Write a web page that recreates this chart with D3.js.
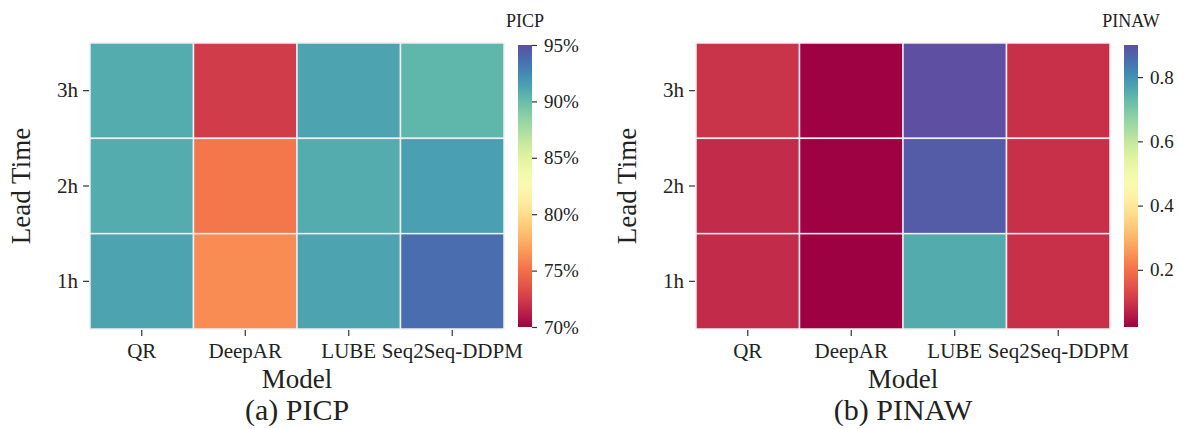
<!DOCTYPE html>
<html lang="en">
<head>
<meta charset="utf-8">
<title>PICP / PINAW heatmaps</title>
<script src="https://cdn.jsdelivr.net/npm/d3@7"></script>
<style>
  body { margin: 0; background: #fff; }
  text { font-family: "Liberation Serif", "Times New Roman", serif; fill: #222; }
</style>
</head>
<body>
<script>
// data
var models = ["QR", "DeepAR", "LUBE", "Seq2Seq-DDPM"];
var leadTimes = ["3h", "2h", "1h"];   // top to bottom

// PICP, rows = 3h, 2h, 1h
var picp3h = [0.909, 0.725, 0.913, 0.904];
var picp2h = [0.909, 0.753, 0.909, 0.915];
var picp1h = [0.913, 0.762, 0.913, 0.937];

// PINAW, rows = 3h, 2h, 1h
var pinaw3h = [0.097, 0.024, 0.900, 0.092];
var pinaw2h = [0.084, 0.023, 0.880, 0.092];
var pinaw1h = [0.084, 0.022, 0.757, 0.092];

var picpTicks = [0.70, 0.75, 0.80, 0.85, 0.90, 0.95];
var pinawTicks = [0.2, 0.4, 0.6, 0.8];

var W = 1179, H = 429;
var svg = d3.select("body").append("svg")
    .attr("width", W)
    .attr("height", H);

var FONT = "'Liberation Serif', 'Times New Roman', serif";

function toCells(rows) {
    var cells = [];
    rows.forEach(function(row, r) {
        row.forEach(function(v, c) {
            cells.push({ lead: leadTimes[r], model: models[c], value: v });
        });
    });
    return cells;
}

function drawPanel(opt) {
    var g = svg.append("g");

    var x = d3.scaleBand().domain(models).range([opt.left, opt.left + 414]);
    var y = d3.scaleBand().domain(leadTimes).range([43, 329]);
    var color = d3.scaleSequential(d3.interpolateSpectral).domain(opt.domain);

    // cells
    g.selectAll("rect.cell")
        .data(toCells(opt.rows))
        .enter()
        .append("rect")
        .attr("class", "cell")
        .attr("x", function(d) { return x(d.model); })
        .attr("y", function(d) { return y(d.lead); })
        .attr("width", x.bandwidth())
        .attr("height", y.bandwidth())
        .attr("fill", function(d) { return color(d.value); })
        .attr("stroke", "#eef0f2")
        .attr("stroke-width", 1.5);

    // x axis
    var xAxis = g.append("g")
        .attr("transform", "translate(0,330)")
        .call(d3.axisBottom(x).tickSize(6).tickPadding(7));
    xAxis.select(".domain").remove();
    xAxis.selectAll("line").attr("stroke", "#333").attr("stroke-width", 1.2);
    xAxis.selectAll("text")
        .style("font-family", FONT)
        .style("font-size", "21px")
        .attr("fill", "#222");

    // y axis
    var yAxis = g.append("g")
        .attr("transform", "translate(" + (opt.left - 1) + ",0)")
        .call(d3.axisLeft(y).tickSize(6).tickPadding(5));
    yAxis.select(".domain").remove();
    yAxis.selectAll("line").attr("stroke", "#333").attr("stroke-width", 1.2);
    yAxis.selectAll("text")
        .style("font-family", FONT)
        .style("font-size", "21px")
        .attr("fill", "#222");

    var cx = opt.left + 207;

    g.append("text")
        .attr("x", cx)
        .attr("y", 388)
        .attr("text-anchor", "middle")
        .style("font-size", "27px")
        .text("Model");

    g.append("text")
        .attr("transform", "translate(" + (opt.left - 60) + ",186) rotate(-90)")
        .attr("text-anchor", "middle")
        .style("font-size", "27px")
        .text("Lead Time");

    g.append("text")
        .attr("x", cx)
        .attr("y", 420)
        .attr("text-anchor", "middle")
        .style("font-size", "30px")
        .text(opt.caption);

    // colorbar
    var cbX = opt.left + 428, cbW = 14, cbTop = 45, cbBot = 327;
    var gradId = "grad-" + opt.name;
    var grad = svg.append("defs").append("linearGradient")
        .attr("id", gradId)
        .attr("x1", 0).attr("y1", 1).attr("x2", 0).attr("y2", 0);
    d3.range(0, 1.0001, 0.05).forEach(function(t) {
        grad.append("stop")
            .attr("offset", t)
            .attr("stop-color", d3.interpolateSpectral(t));
    });
    g.append("rect")
        .attr("x", cbX)
        .attr("y", cbTop)
        .attr("width", cbW)
        .attr("height", cbBot - cbTop)
        .attr("fill", "url(#" + gradId + ")");

    var cbScale = d3.scaleLinear().domain(opt.domain).range([cbBot, cbTop]);
    var cbAxis = g.append("g")
        .attr("transform", "translate(" + (cbX + cbW) + ",0)")
        .call(d3.axisRight(cbScale).tickValues(opt.ticks).tickFormat(opt.fmt)
            .tickSize(5).tickPadding(7));
    cbAxis.select(".domain").remove();
    cbAxis.selectAll("line").attr("stroke", "#333").attr("stroke-width", 1.2);
    cbAxis.selectAll("text")
        .style("font-family", FONT)
        .style("font-size", "19px")
        .attr("fill", "#222");

    g.append("text")
        .attr("x", cbX + cbW / 2)
        .attr("y", 27)
        .attr("text-anchor", "middle")
        .style("font-size", "18px")
        .text(opt.name);
}

drawPanel({
    name: "PICP",
    caption: "(a) PICP",
    rows: [picp3h, picp2h, picp1h],
    domain: [0.70, 0.95],
    ticks: picpTicks,
    fmt: d3.format(".0%"),
    left: 90
});

var pinawAll = pinaw3h.concat(pinaw2h, pinaw1h);
drawPanel({
    name: "PINAW",
    caption: "(b) PINAW",
    rows: [pinaw3h, pinaw2h, pinaw1h],
    domain: d3.extent(pinawAll),
    ticks: pinawTicks,
    fmt: d3.format(".1f"),
    left: 696
});
</script>
</body>
</html>
